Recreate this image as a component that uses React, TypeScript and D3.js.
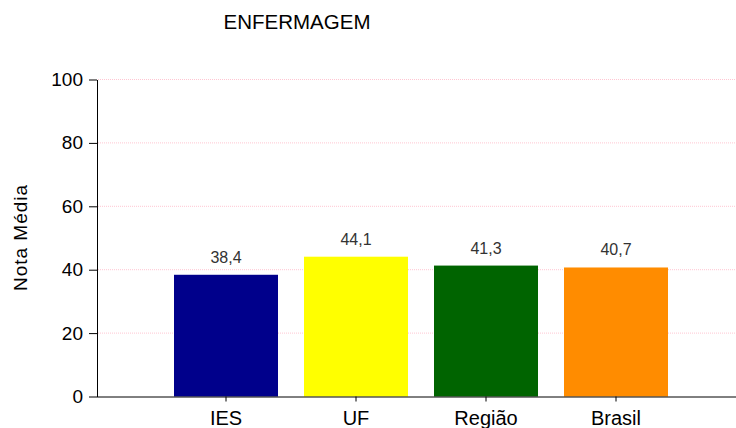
import React, { useRef, useEffect } from "react";
import * as d3 from "d3";

// Nota média por nível
const categories = ["IES", "UF", "Região", "Brasil"];
const values = [38.4, 44.1, 41.3, 40.7];
const barColors = ["#00008B", "#FFFF00", "#006400", "#FF8C00"];
const yTicks = [0, 20, 40, 60, 80, 100];

const width = 736;
const height = 428;

export default function App() {
  const svgRef = useRef<SVGSVGElement>(null);

  useEffect(() => {
    if (!svgRef.current) return;
    const svg = d3.select(svgRef.current);
    svg.selectAll("*").remove();

    const font = "Liberation Sans, Arial, sans-serif";
    const left = 97;
    const top = 79.5;
    const bottom = 396.5;

    const x = d3.scaleBand<string>()
      .domain(categories)
      .range([161, 681])
      .paddingInner(0.2)
      .paddingOuter(0.1);

    const y = d3.scaleLinear().domain([0, 100]).range([bottom, top]);

    // gridlines
    svg.append("g")
      .selectAll("line")
      .data(yTicks.filter(t => t > 0))
      .enter()
      .append("line")
      .attr("x1", left + 1)
      .attr("x2", width)
      .attr("y1", d => y(d))
      .attr("y2", d => y(d))
      .attr("stroke", "#ffc6d2")
      .attr("stroke-width", 1)
      .attr("stroke-dasharray", "1,1");

    // bars
    svg.append("g")
      .selectAll("rect")
      .data(values)
      .enter()
      .append("rect")
      .attr("x", (d, i) => x(categories[i]) as number)
      .attr("width", x.bandwidth())
      .attr("y", d => y(d))
      .attr("height", d => bottom - y(d))
      .attr("fill", (d, i) => barColors[i]);

    // value labels
    svg.append("g")
      .selectAll("text")
      .data(values)
      .enter()
      .append("text")
      .attr("x", (d, i) => (x(categories[i]) as number) + x.bandwidth() / 2)
      .attr("y", d => y(d) - 12)
      .attr("text-anchor", "middle")
      .attr("font-family", font)
      .attr("font-size", "16px")
      .attr("fill", "#333")
      .text(d => d.toFixed(1).replace(".", ","));

    // y axis
    const yAxis = svg.append("g")
      .attr("transform", `translate(${left},0)`)
      .call(d3.axisLeft(y).tickValues(yTicks).tickSize(8).tickPadding(6).tickSizeOuter(0));
    yAxis.select(".domain").attr("stroke", "#000");
    yAxis.selectAll(".tick line").attr("stroke", "#000");
    yAxis.selectAll(".tick text")
      .attr("font-family", font)
      .attr("font-size", "19px")
      .attr("fill", "#000");

    // x axis
    const xAxis = svg.append("g")
      .attr("transform", `translate(0,${bottom})`)
      .call(d3.axisBottom(x).tickSize(5).tickPadding(9).tickSizeOuter(0));
    xAxis.select(".domain").attr("d", `M${left},0.5H${width}`).attr("stroke", "#000");
    xAxis.selectAll(".tick line").attr("stroke", "#000");
    xAxis.selectAll(".tick text")
      .attr("font-family", font)
      .attr("font-size", "20px")
      .attr("fill", "#000");

    // y axis label
    svg.append("text")
      .attr("transform", "rotate(-90)")
      .attr("x", -237.5)
      .attr("y", 27)
      .attr("text-anchor", "middle")
      .attr("font-family", font)
      .attr("font-size", "19px")
      .attr("letter-spacing", "1px")
      .attr("fill", "#000")
      .text("Nota Média");

    // title
    svg.append("text")
      .attr("x", 297)
      .attr("y", 29)
      .attr("text-anchor", "middle")
      .attr("font-family", font)
      .attr("font-size", "20.5px")
      .attr("fill", "#000")
      .text("ENFERMAGEM");
  }, []);

  return (
    <svg
      ref={svgRef}
      width={width}
      height={height}
      style={{ position: "absolute", left: 0, top: 0, background: "#fff" }}
    />
  );
}
